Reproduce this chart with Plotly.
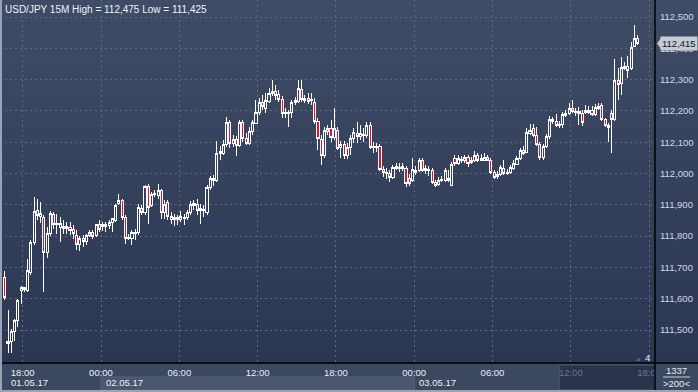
import pandas as pd
import plotly.graph_objects as go

# ---------------- data (USD/JPY, 15-minute bars) ----------------
opens = [
    111.668, 111.456, 111.463, 111.495, 111.530, 111.626, 111.629, 111.626, 111.684, 111.780,
    111.882, 111.863, 111.860, 111.748, 111.808, 111.869, 111.837, 111.828, 111.824, 111.824,
    111.828, 111.821, 111.802, 111.773, 111.792, 111.783, 111.802, 111.812, 111.802, 111.837,
    111.831, 111.831, 111.834, 111.844, 111.850, 111.904, 111.914, 111.860, 111.792, 111.792,
    111.808, 111.812, 111.888, 111.876, 111.959, 111.898, 111.933, 111.930, 111.946, 111.876,
    111.908, 111.853, 111.860, 111.860, 111.853, 111.856, 111.860, 111.876, 111.898, 111.901,
    111.882, 111.885, 111.876, 111.956, 111.984, 111.978, 112.064, 112.064, 112.093, 112.164,
    112.096, 112.109, 112.090, 112.164, 112.112, 112.096, 112.135, 112.160, 112.196, 112.228,
    112.208, 112.231, 112.256, 112.263, 112.253, 112.237, 112.192, 112.192, 112.196, 112.228,
    112.231, 112.269, 112.234, 112.240, 112.234, 112.228, 112.167, 112.109, 112.058, 112.135,
    112.144, 112.116, 112.138, 112.084, 112.093, 112.058, 112.084, 112.112, 112.128, 112.119,
    112.122, 112.122, 112.154, 112.084, 112.084, 112.087, 112.013, 112.000, 112.000, 111.988,
    112.016, 112.016, 112.023, 112.016, 111.984, 111.978, 112.004, 112.010, 112.042, 112.010,
    112.010, 112.010, 111.972, 111.965, 111.978, 111.978, 111.978, 111.962, 112.048, 112.032,
    112.042, 112.042, 112.052, 112.036, 112.042, 112.058, 112.042, 112.042, 112.052, 112.042,
    112.004, 111.991, 111.997, 112.016, 112.000, 112.004, 112.016, 112.029, 112.048, 112.074,
    112.068, 112.128, 112.144, 112.122, 112.093, 112.052, 112.087, 112.119, 112.167, 112.167,
    112.154, 112.157, 112.186, 112.192, 112.208, 112.196, 112.199, 112.192, 112.196, 112.196,
    112.202, 112.189, 112.208, 112.218, 112.173, 112.154, 112.192, 112.173, 112.298, 112.288,
    112.336, 112.343, 112.336, 112.407, 112.432,
]
highs = [
    111.690, 111.565, 111.504, 111.536, 111.600, 111.642, 111.639, 111.728, 111.786, 111.924,
    111.920, 111.908, 111.869, 111.828, 111.879, 111.876, 111.872, 111.860, 111.850, 111.844,
    111.844, 111.834, 111.818, 111.799, 111.802, 111.808, 111.821, 111.818, 111.840, 111.850,
    111.844, 111.844, 111.850, 111.856, 111.904, 111.936, 111.917, 111.869, 111.808, 111.818,
    111.824, 111.901, 111.898, 111.962, 111.965, 111.940, 111.946, 111.968, 111.952, 111.914,
    111.914, 111.876, 111.872, 111.869, 111.879, 111.872, 111.885, 111.911, 111.914, 111.920,
    111.904, 111.898, 111.962, 111.991, 111.994, 112.103, 112.087, 112.106, 112.180, 112.170,
    112.122, 112.119, 112.170, 112.170, 112.128, 112.148, 112.170, 112.234, 112.240, 112.250,
    112.256, 112.272, 112.298, 112.282, 112.266, 112.247, 112.208, 112.202, 112.234, 112.244,
    112.298, 112.298, 112.250, 112.256, 112.256, 112.240, 112.176, 112.122, 112.148, 112.154,
    112.170, 112.208, 112.148, 112.103, 112.103, 112.096, 112.122, 112.144, 112.164, 112.154,
    112.144, 112.164, 112.164, 112.100, 112.096, 112.093, 112.023, 112.016, 112.010, 112.026,
    112.032, 112.032, 112.032, 112.023, 111.997, 112.048, 112.023, 112.048, 112.048, 112.026,
    112.023, 112.016, 111.978, 111.988, 111.991, 112.016, 112.010, 112.036, 112.058, 112.058,
    112.055, 112.058, 112.058, 112.052, 112.071, 112.064, 112.061, 112.064, 112.058, 112.048,
    112.010, 112.007, 112.026, 112.042, 112.013, 112.026, 112.042, 112.055, 112.080, 112.087,
    112.144, 112.157, 112.157, 112.148, 112.100, 112.093, 112.125, 112.183, 112.180, 112.189,
    112.167, 112.196, 112.202, 112.224, 112.234, 112.208, 112.212, 112.202, 112.218, 112.215,
    112.215, 112.221, 112.224, 112.224, 112.176, 112.160, 112.202, 112.365, 112.336, 112.372,
    112.356, 112.375, 112.420, 112.475, 112.442,
]
lows = [
    111.597, 111.428, 111.425, 111.466, 111.511, 111.584, 111.620, 111.623, 111.677, 111.773,
    111.850, 111.843, 111.623, 111.729, 111.799, 111.824, 111.808, 111.780, 111.808, 111.808,
    111.802, 111.792, 111.757, 111.754, 111.764, 111.773, 111.796, 111.792, 111.796, 111.812,
    111.815, 111.812, 111.824, 111.812, 111.844, 111.898, 111.853, 111.776, 111.786, 111.773,
    111.786, 111.805, 111.866, 111.869, 111.840, 111.892, 111.924, 111.920, 111.856, 111.856,
    111.850, 111.840, 111.831, 111.837, 111.844, 111.834, 111.853, 111.869, 111.882, 111.866,
    111.840, 111.860, 111.869, 111.946, 111.959, 111.972, 112.042, 112.058, 112.084, 112.080,
    112.084, 112.055, 112.084, 112.100, 112.090, 112.090, 112.122, 112.157, 112.186, 112.202,
    112.192, 112.224, 112.247, 112.234, 112.228, 112.176, 112.176, 112.148, 112.176, 112.218,
    112.224, 112.228, 112.224, 112.221, 112.218, 112.157, 112.074, 112.026, 112.048, 112.122,
    112.100, 112.106, 112.074, 112.048, 112.045, 112.045, 112.058, 112.096, 112.096, 112.106,
    112.100, 112.112, 112.077, 112.064, 112.068, 112.007, 111.988, 111.984, 111.972, 111.981,
    112.010, 112.004, 112.007, 111.956, 111.959, 111.972, 111.994, 112.004, 112.004, 112.000,
    111.991, 111.965, 111.956, 111.959, 111.972, 111.972, 111.972, 111.959, 112.023, 112.026,
    112.032, 112.032, 112.020, 112.029, 112.036, 112.036, 112.039, 112.039, 112.039, 111.997,
    111.981, 111.984, 111.991, 111.994, 111.994, 111.997, 112.010, 112.026, 112.042, 112.058,
    112.064, 112.122, 112.116, 112.087, 112.042, 112.042, 112.080, 112.109, 112.157, 112.148,
    112.144, 112.144, 112.180, 112.186, 112.192, 112.183, 112.154, 112.151, 112.189, 112.189,
    112.183, 112.183, 112.202, 112.167, 112.148, 112.100, 112.064, 112.167, 112.234, 112.250,
    112.330, 112.304, 112.330, 112.404, 112.410,
]
closes = [
    111.604, 111.463, 111.495, 111.530, 111.594, 111.636, 111.636, 111.690, 111.780, 111.879,
    111.866, 111.872, 111.748, 111.808, 111.872, 111.837, 111.840, 111.840, 111.831, 111.831,
    111.818, 111.808, 111.773, 111.792, 111.783, 111.802, 111.812, 111.799, 111.837, 111.821,
    111.837, 111.837, 111.844, 111.856, 111.898, 111.914, 111.860, 111.792, 111.796, 111.812,
    111.812, 111.892, 111.876, 111.959, 111.892, 111.933, 111.936, 111.946, 111.876, 111.901,
    111.863, 111.863, 111.853, 111.853, 111.863, 111.860, 111.876, 111.901, 111.904, 111.882,
    111.888, 111.882, 111.956, 111.984, 111.978, 112.064, 112.071, 112.093, 112.164, 112.096,
    112.109, 112.090, 112.164, 112.112, 112.096, 112.135, 112.164, 112.196, 112.228, 112.215,
    112.234, 112.256, 112.263, 112.250, 112.237, 112.192, 112.196, 112.196, 112.228, 112.234,
    112.272, 112.237, 112.240, 112.231, 112.237, 112.167, 112.112, 112.058, 112.138, 112.144,
    112.116, 112.144, 112.080, 112.093, 112.058, 112.084, 112.112, 112.132, 112.119, 112.128,
    112.125, 112.154, 112.084, 112.087, 112.087, 112.013, 112.004, 112.004, 111.988, 112.020,
    112.023, 112.020, 112.016, 111.968, 111.968, 112.013, 112.010, 112.042, 112.010, 112.016,
    112.013, 111.972, 111.962, 111.978, 111.981, 112.010, 111.984, 112.029, 112.032, 112.048,
    112.045, 112.052, 112.032, 112.042, 112.058, 112.042, 112.048, 112.052, 112.042, 112.004,
    111.988, 111.997, 112.020, 112.000, 112.004, 112.020, 112.032, 112.048, 112.074, 112.064,
    112.132, 112.138, 112.122, 112.093, 112.052, 112.087, 112.119, 112.173, 112.173, 112.154,
    112.157, 112.189, 112.192, 112.208, 112.199, 112.199, 112.192, 112.164, 112.202, 112.202,
    112.189, 112.212, 112.215, 112.173, 112.154, 112.148, 112.173, 112.298, 112.285, 112.340,
    112.343, 112.330, 112.404, 112.432, 112.415,
]
first_bar = "2017-05-01 16:30"
bar_minutes = 15
y_ticks = [111.5, 111.6, 111.7, 111.8, 111.9, 112.0, 112.1, 112.2, 112.3, 112.4, 112.5]
time_ticks = ["2017-05-01 18:00", "2017-05-02 00:00", "2017-05-02 06:00", "2017-05-02 12:00",
              "2017-05-02 18:00", "2017-05-03 00:00", "2017-05-03 06:00", "2017-05-03 12:00",
              "2017-05-03 18:00"]
day_starts = ["2017-05-01 00:00", "2017-05-02 00:00", "2017-05-03 00:00"]
day_labels = ["01.05.17", "02.05.17", "03.05.17"]
title_text = "USD/JPY 15M High = 112,475 Low = 111,425"
corner_top, corner_bottom = "1337", ">200<"

# ---------------- derived ----------------
bar_open_times = pd.date_range(first_bar, periods=len(closes), freq=f"{bar_minutes}min")
bar_centers = bar_open_times + pd.Timedelta(minutes=bar_minutes / 2)

W, H = 698, 392
ML, MR, MT, MB = 0, 43, 0, 29
PW, PH = W - ML - MR, H - MT - MB

x_start = pd.Timestamp("2017-05-01 16:15:38")
x_end = pd.Timestamp("2017-05-03 18:27:07")
y_lo, y_hi = 111.3946, 112.5543

def fmt(v):
    return f"{v:.3f}".replace(".", ",")

fig = go.Figure()
fig.add_trace(go.Candlestick(
    x=bar_centers, open=opens, high=highs, low=lows, close=closes,
    increasing=dict(line=dict(color="#ffffff", width=1), fillcolor="rgba(0,0,0,0)"),
    decreasing=dict(line=dict(color="#ffffff", width=1), fillcolor="#e3102f"),
    whiskerwidth=0, hoverinfo="skip", showlegend=False,
))

shapes = []
# background gradient of the chart panel (incl. right price scale)
top_c, bot_c = (64, 76, 102), (43, 55, 82)
n = 60
for k in range(n):
    t = (k + 0.5) / n
    c = tuple(round(top_c[j] + (bot_c[j] - top_c[j]) * t) for j in range(3))
    shapes.append(dict(type="rect", xref="paper", yref="paper", layer="below",
                       x0=0, x1=W / PW, y0=1 - (k + 1) / n, y1=1 - k / n + 0.001,
                       fillcolor=f"rgb{c}", line_width=0))
# bottom time strip
strip_y0, strip_y1 = -MB / PH, 0
shapes.append(dict(type="rect", xref="paper", yref="paper", layer="below",
                   x0=0, x1=1, y0=strip_y0, y1=strip_y1, fillcolor="#3c4860", line_width=0))
# lighter date band for second day
date_y0, date_y1 = -(390 - PH) / PH, -(377 - PH) / PH
shapes.append(dict(type="rect", xref="x", yref="paper", layer="below",
                   x0=day_starts[1], x1=day_starts[2], y0=date_y0, y1=date_y1,
                   fillcolor="#4b576f", line=dict(color="#56627a", width=1)))
shapes.append(dict(type="line", xref="x", yref="paper", layer="below",
                   x0=day_starts[2], x1=day_starts[2], y0=date_y0, y1=date_y1,
                   line=dict(color="#56627a", width=1)))
# dark region at the right of the time strip
shapes.append(dict(type="rect", xref="x", yref="paper", layer="below",
                   x0="2017-05-03 11:07", x1=x_end, y0=-(390 - PH) / PH, y1=-2 / PH,
                   fillcolor="#29344c", line=dict(color="#4c5870", width=1)))
# bottom-right corner panel
shapes.append(dict(type="rect", xref="paper", yref="paper", layer="above",
                   x0=1, x1=W / PW, y0=strip_y0, y1=0, fillcolor="#3c4860", line_width=0))
shapes.append(dict(type="line", xref="paper", yref="paper", layer="above",
                   x0=1 + 8 / PW, x1=1 + 35 / PW, y0=-(377 - PH) / PH, y1=-(377 - PH) / PH,
                   line=dict(color="#c8d0dc", width=1)))
# black separators
shapes.append(dict(type="line", xref="paper", yref="paper", layer="above",
                   x0=1, x1=1, y0=strip_y0, y1=1, line=dict(color="#000000", width=1.5)))
shapes.append(dict(type="line", xref="paper", yref="paper", layer="above",
                   x0=0, x1=W / PW, y0=0, y1=0, line=dict(color="#000000", width=1.5)))
# outer light frame
shapes.append(dict(type="line", xref="paper", yref="paper", layer="above",
                   x0=1 / PW, x1=1 / PW, y0=strip_y0, y1=1, line=dict(color="#9aa3b5", width=2)))
shapes.append(dict(type="line", xref="paper", yref="paper", layer="above",
                   x0=0, x1=W / PW, y0=strip_y0 + 1 / PH, y1=strip_y0 + 1 / PH,
                   line=dict(color="#9aa3b5", width=2)))
# last price marker arrow
shapes.append(dict(type="path", xref="paper", yref="y", layer="above",
                   xsizemode="pixel", ysizemode="pixel", xanchor=1, yanchor=closes[-1],
                   path="M 2 0 L 6 5.5 L 6 -5.5 Z", fillcolor="#c6cad2", line_width=0))

annotations = [
    dict(text=title_text, xref="paper", yref="paper", x=0, y=1, xanchor="left", yanchor="top",
         xshift=3, yshift=-2, showarrow=False, font=dict(size=10, color="#f0f2f6")),
    dict(text=fmt(closes[-1]), xref="paper", yref="y", x=1, y=closes[-1], xanchor="left",
         yanchor="middle", xshift=5, showarrow=False, bgcolor="#c6cad2", borderpad=1,
         font=dict(size=9.5, color="#10151f")),
    dict(text=corner_top, xref="paper", yref="paper", x=1 + 21.5 / PW, y=-(370 - PH) / PH,
         xanchor="center", yanchor="middle", showarrow=False, font=dict(size=9.5, color="#e8ecf2")),
    dict(text=corner_bottom, xref="paper", yref="paper", x=1 + 21.5 / PW, y=-(383.5 - PH) / PH,
         xanchor="center", yanchor="middle", showarrow=False, font=dict(size=9.5, color="#e8ecf2")),
    dict(text="4", xref="paper", yref="paper", x=647 / PW, y=1 - 357.5 / PH,
         xanchor="center", yanchor="middle", showarrow=False, font=dict(size=9.5, color="#e8ecf2")),
    dict(text="▲", xref="paper", yref="paper", x=638.5 / PW, y=1 - 358.5 / PH,
         xanchor="center", yanchor="middle", showarrow=False, font=dict(size=7, color="#56627a")),
]
# day labels
annotations.append(dict(text=day_labels[0], xref="paper", yref="paper", x=9 / PW,
                        y=-(382.5 - PH) / PH, xanchor="left", yanchor="middle", showarrow=False,
                        font=dict(size=9.5, color="#eef1f6")))
for d, lab in zip(day_starts[1:], day_labels[1:]):
    annotations.append(dict(text=lab, xref="x", yref="paper", x=d, y=-(382.5 - PH) / PH,
                            xanchor="left", yanchor="middle", xshift=3, showarrow=False,
                            font=dict(size=9.5, color="#eef1f6")))

tick_text = []
for t in time_ticks:
    ts = pd.Timestamp(t)
    lab = ts.strftime("%H:%M")
    if ts >= pd.Timestamp("2017-05-03 12:00"):
        lab = f"<span style='color:#6c7790'>{lab}</span>"
    tick_text.append(lab)

fig.update_layout(
    width=W, height=H, margin=dict(l=ML, r=MR, t=MT, b=MB, pad=0),
    paper_bgcolor="#3c4860", plot_bgcolor="rgba(0,0,0,0)",
    separators=", ", shapes=shapes, annotations=annotations, boxgap=0.08,
    font=dict(family="Liberation Sans, Arial, sans-serif", color="#eef1f6"),
    xaxis=dict(range=[x_start, x_end], type="date", rangeslider=dict(visible=False),
               tickmode="array", tickvals=time_ticks, ticktext=tick_text,
               showgrid=True, gridcolor="#5d6a85", griddash="2px,3px", gridwidth=1,
               ticks="", showline=False, zeroline=False, automargin=False,
               tickfont=dict(size=9.5, color="#eef1f6"), ticklabelstandoff=2),
    yaxis=dict(range=[y_lo, y_hi], side="right", tickmode="array", tickvals=y_ticks,
               ticktext=[fmt(v) for v in y_ticks],
               showgrid=True, gridcolor="#5d6a85", griddash="2px,3px", gridwidth=1,
               ticks="", showline=False, zeroline=False, automargin=False,
               tickfont=dict(size=9.5, color="#cfd9ec"), ticklabelstandoff=4),
    hovermode=False,
)

post = ("document.body.style.margin='0';document.body.style.overflow='hidden';"
        "document.querySelectorAll('.boxlayer path').forEach(function(p){"
        "p.style.shapeRendering='crispEdges';});")
fig.write_html("out.html", config={"displayModeBar": False}, post_script=post)
